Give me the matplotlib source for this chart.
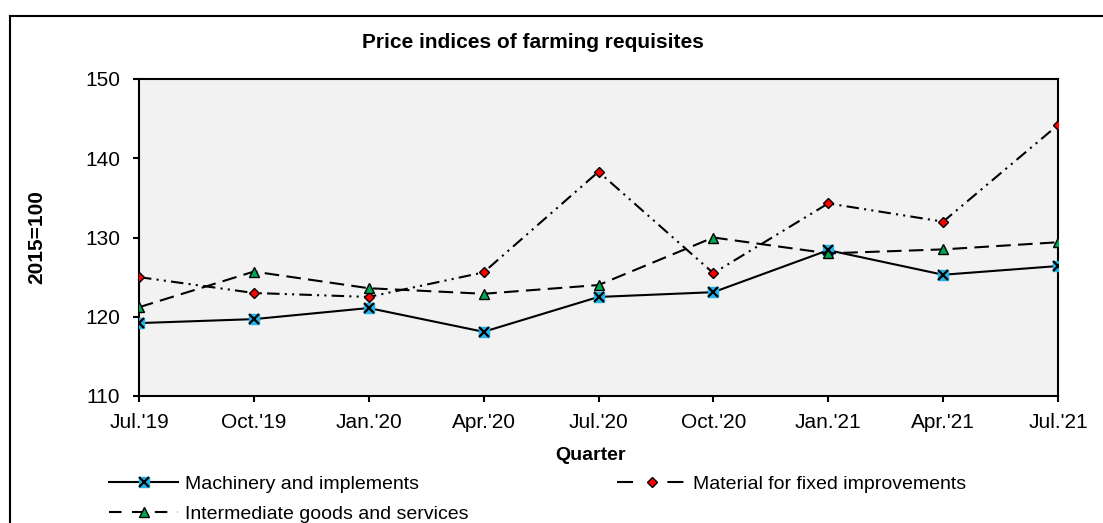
import matplotlib
matplotlib.use("Agg")
import matplotlib.pyplot as plt
from matplotlib.lines import Line2D
from matplotlib.legend_handler import HandlerTuple

plt.rcParams['font.family'] = ['Liberation Sans', 'DejaVu Sans']

quarters = ["Jul.'19", "Oct.'19", "Jan.'20", "Apr.'20", "Jul.'20", "Oct.'20", "Jan.'21", "Apr.'21", "Jul.'21"]
machinery = [119.2, 119.7, 121.1, 118.1, 122.5, 123.1, 128.4, 125.3, 126.4]
material = [125.0, 123.0, 122.5, 125.6, 138.3, 125.5, 134.3, 132.0, 144.2]
intermediate = [121.2, 125.7, 123.6, 122.9, 124.0, 130.0, 128.0, 128.5, 129.4]
yticks = [110, 120, 130, 140, 150]
series_names = ['Machinery and implements', 'Material for fixed improvements', 'Intermediate goods and services']

W, H = 1103, 523
fig = plt.figure(figsize=(W / 100, H / 100), dpi=100)
ax = fig.add_axes([139 / W, 1 - 396 / H, (1058 - 139) / W, (396 - 79) / H])
ax.set_facecolor('#F2F2F2')

x = list(range(len(quarters)))
lw = 1.5
blue = '#1FB4EA'
red = '#FF0000'
green = '#00A651'

# Machinery: solid, blue square + black x
ax.plot(x, machinery, color='black', lw=lw, zorder=2)
ax.plot(x, machinery, ls='none', marker='s', ms=7.5, mfc=blue, mec=blue, zorder=3)
ax.plot(x, machinery, ls='none', marker='x', ms=6.5, mec='black', mew=1.6, zorder=4)

# Material: dash-dot-dot, red diamond
mat_dash = (6, 2.5, 1, 2.5, 1, 2.5)
ax.plot(x, material, color='black', lw=lw, dashes=mat_dash, marker='D', ms=5.4,
        mfc=red, mec='black', mew=1.0, zorder=3)

# Intermediate: long dashes, green triangle
int_dash = (7, 3.5)
ax.plot(x, intermediate, color='black', lw=lw, dashes=int_dash, marker='^', ms=7.5,
        mfc=green, mec='black', mew=1.0, zorder=3)

ax.set_xlim(0, len(quarters) - 1)
ax.set_ylim(110, 150)
ax.set_xticks(x)
ax.set_xticklabels(quarters)
ax.set_yticks(yticks)
ax.tick_params(axis='both', labelsize=15, direction='out', length=4.5, width=1.5, colors='black')
ax.tick_params(axis='x', pad=8)
ax.tick_params(axis='y', pad=9)
for s in ax.spines.values():
    s.set_linewidth(1.5)
    s.set_color('black')

ax.set_xlabel('Quarter', fontsize=14, fontweight='bold', va='center')
ax.xaxis.set_label_coords((591 - 139) / 919, (396 - 455) / 317)
ax.set_ylabel('2015=100', fontsize=15, fontweight='bold', va='center')
ax.yaxis.set_label_coords((37 - 139) / 919, 0.5)
fig.text(533 / W, 1 - 42 / H, 'Price indices of farming requisites', ha='center', va='center',
         fontsize=15, fontweight='bold')

# Outer frame
fig.add_artist(Line2D([10 / W, 10 / W], [1 - 16 / H, -0.1], transform=fig.transFigure, color='black', lw=1.5))
fig.add_artist(Line2D([10 / W, 1.1], [1 - 16 / H, 1 - 16 / H], transform=fig.transFigure, color='black', lw=1.5))

# Legend entries
h_mach = (Line2D([], [], color='black', lw=lw, marker='s', ms=7.5, mfc=blue, mec=blue),
          Line2D([], [], ls='none', marker='x', ms=6.5, mec='black', mew=1.6))
h_mat = Line2D([], [], color='black', lw=lw, dashes=(7.7, 16.5), marker='D', ms=5.4, mfc=red, mec='black', mew=1.0)
h_int = Line2D([], [], color='black', lw=lw, dashes=(6, 5), marker='^', ms=7.5, mfc=green, mec='black', mew=1.0)

fs_leg = 14
em = fs_leg * 100 / 72
for handle, label, (px, py) in [(h_mach, series_names[0], (109, 484)),
                                (h_mat, series_names[1], (617, 484)),
                                (h_int, series_names[2], (109, 514))]:
    fig.legend([handle], [label], handler_map={tuple: HandlerTuple(ndivide=1)},
               loc='center left', bbox_to_anchor=(px / W, 1 - py / H), frameon=False,
               fontsize=fs_leg, handlelength=69 / em, handletextpad=7 / em,
               borderaxespad=0, borderpad=0)

fig.savefig('out.png', dpi=100)
